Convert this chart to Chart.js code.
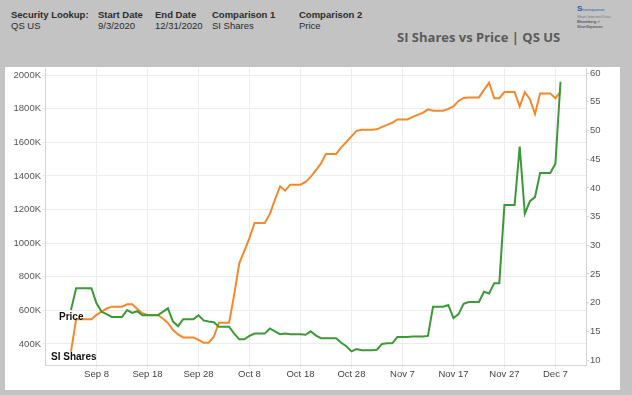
<!DOCTYPE html>
<html>
<head>
<meta charset="utf-8">
<script src="https://cdn.jsdelivr.net/npm/chart.js"></script>
<style>
  body { margin: 0; width: 632px; height: 395px; background: #c3c3c3; position: relative; overflow: hidden; font-family: "Liberation Sans", Arial, sans-serif; }
  .hd { position: absolute; font-size: 9.5px; line-height: 11px; color: #2b2b2b; white-space: nowrap; }
  .hd b { display: block; }
  #titulo { position: absolute; left: 397px; top: 28px; font-family: "Open Sans", sans-serif; font-weight: 700; font-size: 13px; color: #5a5a5a; white-space: nowrap; }
  #logo { position: absolute; left: 577px; top: 5px; width: 42px; height: 22px; color: #2a5caa; font-size: 4px; line-height: 5px; }
  #logo .s { font-size: 8px; font-weight: 700; line-height: 8px; }
  #panel { position: absolute; left: 5px; top: 67px; width: 615px; height: 323px; background: #fff; }
  #caja { position: absolute; left: 5px; top: 57px; width: 615px; height: 333px; }
</style>
</head>
<body>

<div class="hd" style="left:11px;top:9px"><b>Security Lookup:</b>QS US</div>
<div class="hd" style="left:98px;top:9px"><b>Start Date</b>9/3/2020</div>
<div class="hd" style="left:155px;top:9px"><b>End Date</b>12/31/2020</div>
<div class="hd" style="left:212px;top:9px"><b>Comparison 1</b>SI Shares</div>
<div class="hd" style="left:299px;top:9px"><b>Comparison 2</b>Price</div>
<div id="titulo">SI Shares vs Price | QS US</div>
<div id="logo"><div class="s">S<span style="font-size:4px;font-weight:400">hortsqueeze</span></div><div style="color:#777">Short Interest Data</div><div style="color:#333">Bloomberg ✓ ShortSqueeze</div></div>

<div id="panel"></div>
<div id="caja"><canvas id="graficoSI"></canvas></div>

<script>
//---------------
// Datos (un valor por día desde 9/3/2020)
//---------------
const fechaInicio = new Date(2020, 8, 3);

// SI Shares, en miles
const siShares = [
  354, 547, 547, 547, 547, 573, 593, 611, 622, 622,
  622, 636, 636, 608, 583, 573, 573, 573, 552, 525,
  483, 457, 439, 439, 439, 424, 408, 408, 443, 527,
  527, 527, 692, 880, 954, 1031, 1120, 1120, 1120, 1174,
  1259, 1338, 1313, 1348, 1348, 1348, 1364, 1394, 1433, 1473,
  1531, 1531, 1531, 1570, 1602, 1635, 1668, 1674, 1674, 1674,
  1677, 1692, 1704, 1716, 1736, 1736, 1736, 1751, 1763, 1775,
  1796, 1788, 1788, 1788, 1799, 1813, 1846, 1864, 1867, 1867,
  1867, 1912, 1954, 1862, 1862, 1899, 1899, 1899, 1813, 1899,
  1857, 1768, 1891, 1891, 1891, 1862, 1901
];

// Precio
const precio = [
  18.7, 22.5, 22.5, 22.5, 22.5, 19.9, 18.4, 18.0, 17.5, 17.5,
  17.5, 18.7, 18.2, 18.5, 17.8, 17.8, 17.8, 17.8, 18.4, 19.0,
  16.7, 15.9, 17.1, 17.1, 17.1, 17.8, 16.9, 16.7, 16.6, 15.8,
  15.8, 15.8, 14.6, 13.6, 13.6, 14.2, 14.6, 14.6, 14.6, 15.5,
  15.0, 14.5, 14.6, 14.5, 14.5, 14.5, 14.4, 15.0, 14.3, 13.8,
  13.8, 13.8, 13.8, 13.0, 12.4, 11.5, 11.9, 11.7, 11.7, 11.7,
  11.8, 12.8, 12.9, 12.9, 14.0, 14.0, 14.0, 14.1, 14.1, 14.1,
  14.2, 19.3, 19.3, 19.3, 19.6, 17.3, 18.0, 19.8, 20.1, 20.1,
  20.1, 21.9, 21.6, 23.4, 23.4, 37.0, 37.0, 37.0, 47.2, 35.5,
  37.7, 38.4, 42.6, 42.6, 42.6, 44.2, 58.5
];

const etiquetasEje = ['Sep 8', 'Sep 18', 'Sep 28', 'Oct 8', 'Oct 18', 'Oct 28', 'Nov 7', 'Nov 17', 'Nov 27', 'Dec 7'];
const ticksSI = [400, 600, 800, 1000, 1200, 1400, 1600, 1800, 2000];
const ticksPrecio = [10, 15, 20, 25, 30, 35, 40, 45, 50, 55, 60];

const meses = ['Jan', 'Feb', 'Mar', 'Apr', 'May', 'Jun', 'Jul', 'Aug', 'Sep', 'Oct', 'Nov', 'Dec'];
const fechas = siShares.map((_, i) => {
  const d = new Date(fechaInicio.getFullYear(), fechaInicio.getMonth(), fechaInicio.getDate() + i);
  return `${meses[d.getMonth()]} ${d.getDate()}`;
});
const posTicks = etiquetasEje.map(e => fechas.indexOf(e));

//---------------
// Etiquetas al inicio de cada línea
//---------------
const etiquetasLinea = {
  id: 'etiquetasLinea',
  afterDatasetsDraw(chart) {
    const ctx = chart.ctx;
    ctx.save();
    ctx.font = 'bold 10px "Liberation Sans", Arial, sans-serif';
    ctx.fillStyle = '#111';
    ctx.textBaseline = 'middle';
    const pPrecio = chart.getDatasetMeta(0).data[0];
    const pSI = chart.getDatasetMeta(1).data[0];
    ctx.fillText('Price', pPrecio.x - 12, pPrecio.y + 7);
    ctx.fillText('SI Shares', pSI.x - 20, pSI.y + 6);
    ctx.restore();
  }
};

const fuenteTicks = { family: '"Liberation Sans", Arial, sans-serif', size: 9.5 };

new Chart(document.getElementById('graficoSI'), {
  type: 'line',
  data: {
    datasets: [
      {
        label: 'Price',
        data: precio.map((v, i) => ({ x: i, y: v })),
        yAxisID: 'y1',
        borderColor: '#3a9a36',
        borderWidth: 2,
        pointRadius: 0,
        tension: 0,
        fill: false
      },
      {
        label: 'SI Shares',
        data: siShares.map((v, i) => ({ x: i, y: v })),
        yAxisID: 'y',
        borderColor: '#f5882b',
        borderWidth: 2,
        pointRadius: 0,
        tension: 0,
        fill: false
      }
    ]
  },
  options: {
    responsive: true,
    maintainAspectRatio: false,
    animation: false,
    layout: { padding: { top: 11, left: 0, right: 0, bottom: 0 } },
    plugins: { legend: { display: false }, tooltip: { enabled: false } },
    scales: {
      x: {
        type: 'linear',
        min: -5.1,
        max: 101,
        afterBuildTicks: s => { s.ticks = posTicks.map(v => ({ value: v })); },
        afterFit: s => { s.height = 25; },
        ticks: { autoSkip: false, maxRotation: 0, padding: 0, color: '#444', font: fuenteTicks, callback: v => fechas[v] },
        grid: { color: '#ececec', tickLength: 4 },
        border: { color: '#d4d4d4' }
      },
      y: {
        position: 'left',
        min: 275,
        max: 2042,
        afterBuildTicks: s => { s.ticks = ticksSI.map(v => ({ value: v })); },
        afterFit: s => { s.width = 40; },
        ticks: { autoSkip: false, padding: 1, color: '#555', font: fuenteTicks, callback: v => v + 'K' },
        grid: { color: '#ececec', tickLength: 3 },
        border: { color: '#d4d4d4' }
      },
      y1: {
        position: 'right',
        min: 9.13,
        max: 60.9,
        afterBuildTicks: s => { s.ticks = ticksPrecio.map(v => ({ value: v })); },
        afterFit: s => { s.width = 34; },
        ticks: { autoSkip: false, padding: 1, color: '#555', font: fuenteTicks },
        grid: { drawOnChartArea: false, color: '#d4d4d4', tickLength: 3 },
        border: { color: '#d4d4d4' }
      }
    }
  },
  plugins: [etiquetasLinea]
});
</script>
</body>
</html>
